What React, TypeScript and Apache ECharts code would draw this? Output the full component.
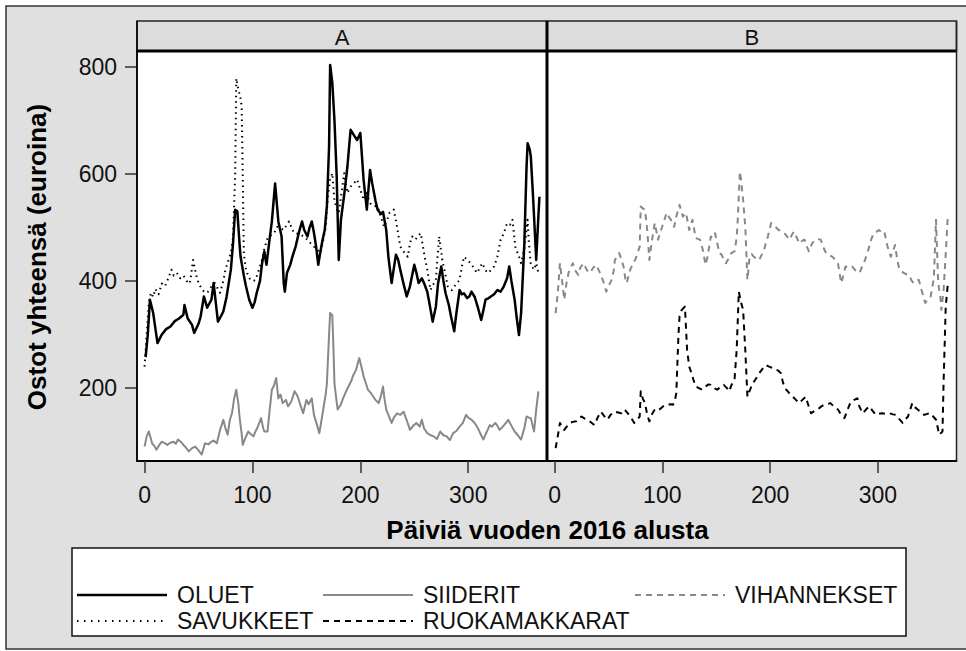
import React, { useEffect, useRef } from "react";
import * as echarts from "echarts";

const FONT = "'Liberation Sans', Arial, Helvetica, sans-serif";

const panelLabels = ["A", "B"];
const xTicks = [0, 100, 200, 300];
const yTicks = [200, 400, 600, 800];
const xTitle = "Päiviä vuoden 2016 alusta";
const yTitle = "Ostot yhteensä (euroina)";

// Panel A
const oluetDays = [1, 3, 5, 8, 12, 16, 20, 24, 28, 32, 36, 37, 40, 44, 46, 50, 52, 55, 58, 62, 64, 66, 68, 71, 73, 76, 80, 82, 84, 86, 88, 89, 92, 94, 97, 100, 102, 104, 107, 109, 111, 113, 116, 118, 121, 124, 127, 129, 130, 132, 135, 137, 140, 143, 146, 148, 151, 153, 155, 157, 159, 161, 163, 165, 167, 169, 171, 172, 174, 176, 178, 180, 182, 185, 188, 190, 191, 194, 197, 200, 203, 206, 209, 211, 214, 216, 219, 221, 224, 226, 229, 230, 233, 235, 237, 240, 243, 246, 250, 252, 254, 257, 259, 262, 264, 267, 270, 272, 275, 277, 279, 282, 284, 287, 289, 292, 294, 296, 299, 301, 303, 306, 309, 312, 314, 316, 319, 321, 324, 327, 330, 333, 336, 338, 340, 343, 345, 347, 349, 350, 352, 354, 355, 357, 358, 360, 362, 363, 365, 366];
const oluetValues = [258, 300, 365, 340, 284, 300, 310, 315, 325, 330, 337, 355, 330, 318, 303, 320, 334, 371, 350, 365, 396, 360, 324, 335, 343, 370, 421, 470, 533, 530, 470, 445, 410, 390, 365, 350, 360, 378, 400, 434, 455, 430, 480, 511, 582, 511, 483, 396, 380, 415, 430, 445, 464, 490, 511, 495, 483, 500, 511, 490, 464, 430, 455, 477, 495, 540, 650, 803, 770, 700, 600, 439, 514, 560, 613, 660, 682, 672, 663, 676, 589, 533, 607, 582, 550, 533, 525, 529, 495, 445, 396, 410, 449, 440, 421, 395, 371, 390, 430, 415, 396, 405, 396, 380, 359, 324, 352, 395, 427, 400, 377, 355, 334, 306, 340, 383, 375, 377, 368, 371, 380, 370, 350, 327, 345, 365, 368, 371, 375, 383, 380, 390, 405, 427, 400, 365, 330, 299, 340, 383, 470, 610, 657, 645, 632, 560, 480, 439, 520, 557];

const savukkeetDays = [0, 2, 4, 6, 8, 10, 13, 16, 19, 22, 25, 27, 30, 33, 36, 39, 42, 45, 48, 50, 53, 56, 59, 62, 65, 68, 70, 73, 75, 78, 80, 82, 84, 85, 87, 89, 90, 91, 92, 94, 96, 98, 101, 103, 106, 109, 111, 114, 117, 120, 123, 126, 129, 132, 134, 137, 139, 142, 145, 148, 151, 154, 157, 160, 163, 165, 168, 170, 172, 174, 176, 178, 180, 183, 185, 188, 191, 194, 197, 200, 203, 206, 209, 212, 216, 219, 222, 225, 227, 231, 234, 237, 240, 244, 246, 248, 251, 254, 256, 259, 262, 265, 268, 270, 273, 276, 279, 281, 283, 285, 288, 292, 294, 296, 299, 302, 305, 308, 311, 313, 316, 318, 321, 324, 327, 330, 333, 336, 339, 341, 344, 346, 349, 352, 355, 356, 358, 361, 363, 365];
const savukkeetValues = [240, 300, 360, 378, 370, 385, 375, 395, 390, 405, 421, 410, 415, 405, 410, 400, 395, 439, 410, 396, 385, 378, 380, 390, 396, 385, 378, 400, 421, 440, 452, 480, 600, 778, 757, 740, 725, 601, 450, 421, 410, 402, 400, 402, 421, 440, 460, 480, 485, 489, 501, 498, 495, 505, 511, 495, 489, 488, 486, 482, 477, 470, 464, 458, 452, 470, 501, 560, 589, 601, 551, 535, 527, 570, 601, 564, 576, 582, 589, 570, 551, 564, 545, 540, 539, 520, 501, 515, 527, 533, 501, 464, 455, 445, 470, 483, 477, 485, 489, 452, 421, 383, 395, 402, 483, 439, 410, 390, 385, 383, 392, 402, 425, 445, 440, 433, 425, 415, 425, 433, 420, 415, 420, 427, 445, 477, 489, 508, 505, 514, 458, 452, 433, 460, 514, 477, 430, 421, 433, 415];

const siideritDays = [0, 2, 4, 7, 9, 11, 14, 16, 19, 21, 24, 27, 29, 31, 34, 36, 38, 41, 44, 47, 50, 53, 55, 56, 59, 62, 64, 67, 70, 73, 75, 77, 79, 81, 83, 85, 87, 88, 90, 91, 93, 96, 98, 101, 103, 105, 108, 110, 111, 114, 116, 118, 120, 122, 124, 126, 128, 131, 133, 136, 139, 141, 142, 145, 147, 150, 152, 155, 157, 160, 162, 164, 165, 168, 169, 171, 172, 174, 175, 176, 178, 179, 182, 184, 187, 189, 192, 193, 196, 199, 201, 203, 205, 207, 210, 212, 214, 217, 219, 221, 222, 224, 226, 229, 231, 234, 237, 240, 243, 246, 249, 252, 255, 257, 259, 262, 265, 268, 271, 274, 277, 280, 283, 286, 289, 292, 295, 298, 300, 303, 306, 309, 312, 314, 317, 320, 322, 325, 327, 329, 332, 335, 337, 340, 343, 346, 349, 352, 354, 356, 358, 361, 363, 365];
const siideritValues = [91, 110, 119, 97, 92, 85, 95, 100, 97, 94, 98, 100, 96, 104, 99, 94, 90, 82, 88, 91, 84, 76, 90, 97, 95, 100, 102, 97, 122, 141, 125, 113, 140, 153, 180, 197, 170, 147, 115, 94, 105, 119, 115, 110, 120, 128, 144, 125, 119, 119, 160, 197, 205, 219, 181, 188, 172, 178, 166, 175, 194, 188, 184, 165, 153, 178, 170, 181, 150, 130, 116, 140, 153, 190, 209, 300, 340, 336, 280, 209, 175, 160, 170, 181, 195, 203, 215, 222, 234, 256, 240, 222, 210, 197, 190, 184, 178, 172, 185, 203, 185, 160, 150, 135, 145, 153, 150, 156, 140, 122, 130, 135, 128, 141, 125, 116, 112, 110, 105, 119, 112, 110, 103, 116, 120, 128, 135, 150, 145, 141, 135, 125, 112, 104, 118, 131, 128, 135, 130, 122, 128, 135, 141, 130, 119, 112, 104, 125, 147, 145, 144, 119, 160, 194];

// Panel B
const vihanneksetDays = [1, 3, 5, 7, 9, 11, 13, 15, 17, 19, 22, 24, 27, 30, 33, 36, 39, 41, 43, 46, 48, 50, 53, 55, 56, 58, 60, 62, 64, 66, 67, 70, 73, 75, 77, 79, 80, 82, 84, 86, 88, 90, 93, 96, 98, 101, 104, 106, 108, 111, 113, 116, 119, 122, 125, 128, 131, 135, 138, 140, 142, 145, 147, 149, 151, 153, 155, 157, 159, 161, 164, 167, 169, 170, 172, 173, 175, 177, 179, 181, 183, 185, 188, 190, 192, 194, 196, 198, 201, 203, 205, 208, 212, 215, 218, 220, 222, 225, 227, 230, 232, 234, 236, 239, 242, 245, 247, 250, 252, 255, 258, 260, 263, 266, 268, 270, 273, 276, 279, 283, 285, 287, 290, 292, 294, 296, 299, 301, 304, 306, 309, 312, 314, 316, 318, 320, 322, 324, 327, 329, 331, 333, 336, 338, 341, 344, 346, 349, 352, 354, 356, 358, 359, 361, 363, 365];
const vihanneksetValues = [340, 377, 433, 400, 365, 395, 415, 425, 433, 420, 411, 425, 433, 420, 415, 425, 430, 420, 411, 395, 380, 390, 402, 420, 439, 445, 452, 440, 427, 400, 396, 420, 433, 440, 452, 464, 539, 535, 533, 495, 439, 470, 508, 477, 490, 508, 527, 520, 514, 501, 520, 542, 520, 527, 495, 514, 480, 477, 455, 430, 445, 483, 480, 489, 470, 452, 449, 440, 433, 440, 452, 455, 480, 514, 604, 590, 551, 501, 402, 445, 450, 445, 440, 439, 448, 455, 470, 483, 508, 505, 501, 495, 492, 485, 477, 485, 492, 480, 470, 475, 477, 465, 455, 470, 477, 478, 477, 460, 452, 448, 445, 440, 433, 396, 410, 427, 425, 427, 420, 415, 425, 433, 450, 464, 478, 489, 492, 495, 490, 492, 464, 445, 455, 467, 440, 421, 418, 415, 412, 411, 402, 396, 400, 402, 380, 359, 365, 371, 405, 514, 396, 370, 346, 383, 450, 523];

const ruokamakkaratDays = [1, 3, 5, 7, 9, 12, 14, 17, 20, 22, 25, 28, 31, 34, 37, 40, 43, 46, 49, 52, 55, 58, 62, 65, 68, 71, 74, 77, 79, 80, 82, 84, 86, 88, 90, 93, 96, 99, 102, 105, 108, 110, 112, 113, 115, 116, 118, 120, 121, 123, 125, 127, 129, 131, 134, 137, 140, 143, 145, 148, 151, 154, 157, 160, 162, 164, 167, 169, 171, 173, 175, 177, 179, 181, 184, 187, 190, 193, 196, 199, 202, 205, 208, 210, 212, 215, 218, 221, 224, 227, 230, 233, 236, 238, 241, 244, 247, 250, 253, 256, 259, 263, 266, 269, 272, 275, 278, 281, 283, 286, 289, 292, 295, 298, 301, 304, 307, 311, 314, 317, 320, 323, 325, 328, 330, 332, 334, 337, 340, 343, 346, 349, 351, 354, 357, 360, 361, 363, 365];
const ruokamakkaratValues = [88, 110, 135, 128, 122, 130, 135, 137, 138, 142, 147, 143, 141, 136, 131, 145, 156, 148, 141, 150, 156, 155, 153, 160, 153, 145, 135, 142, 147, 194, 180, 172, 150, 138, 150, 160, 158, 163, 168, 169, 170, 169, 180, 191, 300, 334, 346, 350, 352, 271, 240, 228, 215, 203, 200, 197, 203, 207, 206, 200, 197, 202, 206, 200, 194, 205, 216, 271, 380, 360, 346, 271, 184, 195, 209, 218, 228, 236, 243, 240, 238, 235, 232, 228, 210, 197, 190, 184, 178, 172, 178, 184, 165, 153, 157, 160, 165, 169, 170, 172, 166, 160, 150, 144, 160, 175, 178, 181, 165, 153, 160, 166, 158, 150, 152, 153, 152, 153, 151, 150, 142, 135, 140, 147, 160, 172, 165, 160, 155, 150, 152, 153, 148, 141, 113, 119, 209, 352, 396];

const pairs = (d: number[], v: number[]) => d.map((x, i) => [x, v[i]]);

const GRID_TOP = 51;
const GRID_H = 410;
const A_LEFT = 137;
const DIV_X = 547;
const B_RIGHT = 956.5;

export default function App() {
  const ref = useRef<HTMLDivElement>(null);
  useEffect(() => {
    if (!ref.current) return;
    const chart = echarts.init(ref.current, undefined, { renderer: "svg" });

    const xAxisFor = (i: number) => ({
      gridIndex: i,
      type: "value",
      min: -7,
      max: 373,
      axisLine: { show: true, onZero: false, lineStyle: { color: "#000", width: 2 } },
      axisTick: { show: true, length: 12, customValues: xTicks, lineStyle: { color: "#333", width: 1.5 } },
      axisLabel: { customValues: xTicks, fontSize: 23, color: "#111", fontFamily: FONT, margin: 22 },
      splitLine: { show: false },
    });
    const yAxisFor = (i: number) => ({
      gridIndex: i,
      type: "value",
      min: 64,
      max: 829,
      axisLine: { show: i === 0, onZero: false, lineStyle: { color: "#000", width: 1.5 } },
      axisTick: { show: i === 0, length: 12, customValues: yTicks, lineStyle: { color: "#333", width: 1.5 } },
      axisLabel: { show: i === 0, customValues: yTicks, fontSize: 23, color: "#111", fontFamily: FONT, margin: 20 },
      splitLine: { show: false },
    });

    const lineSeries = (name: string, idx: number, data: number[][], color: string, width: number, type: any) => ({
      name,
      type: "line",
      xAxisIndex: idx,
      yAxisIndex: idx,
      data,
      showSymbol: false,
      symbol: "none",
      lineStyle: { color, width, type, cap: "butt", join: "round" },
      z: 3,
    });

    const legendRow1 = 595;
    const legendRow2 = 621;
    const legendItems = [
      { x: 77, y: legendRow1, name: "OLUET", color: "#000", dash: null as any, w: 2.4 },
      { x: 323, y: legendRow1, name: "SIIDERIT", color: "#888", dash: null as any, w: 2 },
      { x: 635, y: legendRow1, name: "VIHANNEKSET", color: "#888", dash: [6, 5], w: 2 },
      { x: 77, y: legendRow2, name: "SAVUKKEET", color: "#000", dash: [1.5, 5.5], w: 1.8 },
      { x: 323, y: legendRow2, name: "RUOKAMAKKARAT", color: "#000", dash: [6, 5], w: 2 },
    ];

    const graphics: any[] = [
      { type: "rect", z: -5, silent: true, shape: { x: 6, y: 6, width: 980, height: 643 }, style: { fill: "#e0e0e0", stroke: "#333", lineWidth: 1.5 } },
      { type: "rect", z: 10, shape: { x: A_LEFT, y: 21, width: DIV_X - A_LEFT, height: GRID_TOP - 21 }, style: { fill: "#dcdcdc", stroke: "#222", lineWidth: 1.5 } },
      { type: "rect", z: 10, shape: { x: DIV_X, y: 21, width: B_RIGHT - DIV_X, height: GRID_TOP - 21 }, style: { fill: "#dcdcdc", stroke: "#222", lineWidth: 1.5 } },
      { type: "text", z: 11, x: (A_LEFT + DIV_X) / 2, y: 37, style: { text: panelLabels[0], fontSize: 22, fontFamily: FONT, fill: "#111", textAlign: "center", textVerticalAlign: "middle" } },
      { type: "text", z: 11, x: (DIV_X + B_RIGHT) / 2, y: 37, style: { text: panelLabels[1], fontSize: 22, fontFamily: FONT, fill: "#111", textAlign: "center", textVerticalAlign: "middle" } },
      { type: "line", z: 100, shape: { x1: A_LEFT, y1: GRID_TOP, x2: B_RIGHT, y2: GRID_TOP }, style: { stroke: "#000", lineWidth: 3 } },
      { type: "line", z: 100, shape: { x1: DIV_X, y1: 21, x2: DIV_X, y2: GRID_TOP + GRID_H }, style: { stroke: "#000", lineWidth: 3 } },
      { type: "line", z: 100, shape: { x1: A_LEFT, y1: 21, x2: A_LEFT, y2: GRID_TOP + GRID_H }, style: { stroke: "#000", lineWidth: 1.5 } },
      { type: "line", z: 100, shape: { x1: B_RIGHT, y1: 21, x2: B_RIGHT, y2: GRID_TOP + GRID_H }, style: { stroke: "#222", lineWidth: 1.5 } },
      { type: "text", z: 11, x: 37, y: 257, rotation: Math.PI / 2, style: { text: yTitle, fontSize: 26, fontWeight: "bold", fontFamily: FONT, fill: "#000", textAlign: "center", textVerticalAlign: "middle" } },
      { type: "text", z: 11, x: 547.5, y: 530, style: { text: xTitle, fontSize: 26, fontWeight: "bold", fontFamily: FONT, fill: "#000", textAlign: "center", textVerticalAlign: "middle" } },
      { type: "rect", z: 10, shape: { x: 72, y: 548, width: 834, height: 88 }, style: { fill: "#fff", stroke: "#111", lineWidth: 1.5 } },
    ];
    legendItems.forEach((it) => {
      graphics.push({ type: "line", z: 11, shape: { x1: it.x, y1: it.y, x2: it.x + 90, y2: it.y }, style: { stroke: it.color, lineWidth: it.w, lineDash: it.dash || undefined } });
      graphics.push({ type: "text", z: 11, x: it.x + 100, y: it.y, style: { text: it.name, fontSize: 23, fontFamily: FONT, fill: "#111", textAlign: "left", textVerticalAlign: "middle" } });
    });

    chart.setOption({
      animation: false,
      grid: [
        { left: A_LEFT, top: GRID_TOP, width: DIV_X - A_LEFT, height: GRID_H, show: true, backgroundColor: "#fff", borderWidth: 0 },
        { left: DIV_X, top: GRID_TOP, width: B_RIGHT - DIV_X, height: GRID_H, show: true, backgroundColor: "#fff", borderWidth: 0 },
      ],
      xAxis: [xAxisFor(0), xAxisFor(1)],
      yAxis: [yAxisFor(0), yAxisFor(1)],
      series: [
        lineSeries("SIIDERIT", 0, pairs(siideritDays, siideritValues), "#888", 2, "solid"),
        lineSeries("SAVUKKEET", 0, pairs(savukkeetDays, savukkeetValues), "#000", 2, [1.5, 4]),
        lineSeries("OLUET", 0, pairs(oluetDays, oluetValues), "#000", 2.5, "solid"),
        lineSeries("VIHANNEKSET", 1, pairs(vihanneksetDays, vihanneksetValues), "#888", 2, [6, 5]),
        lineSeries("RUOKAMAKKARAT", 1, pairs(ruokamakkaratDays, ruokamakkaratValues), "#000", 2, [6, 5]),
      ],
      graphic: graphics,
    });
    return () => chart.dispose();
  }, []);

  return (
    <div style={{ position: "absolute", left: 0, top: 0, width: 966, height: 651, background: "#fff" }}>
      <div ref={ref} style={{ width: 966, height: 651 }} />
    </div>
  );
}
